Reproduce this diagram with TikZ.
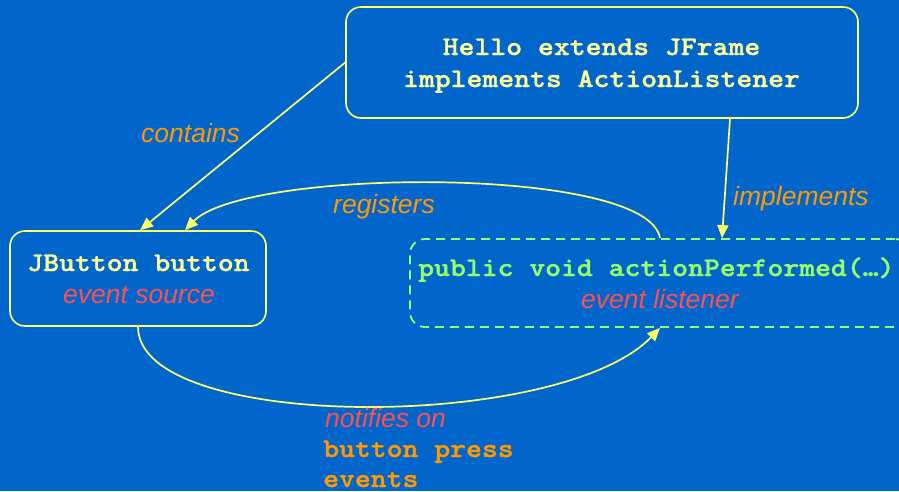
\documentclass[tikz,border=0pt]{standalone}
\usepackage{fontspec}
\setmainfont{Liberation Sans}
\newfontfamily\codefont{lmmonolt10-bold.otf}[FakeStretch=1.12,FakeBold=1.2]
\usetikzlibrary{arrows.meta}
\definecolor{bgblue}{RGB}{0,102,204}
\definecolor{lineyellow}{RGB}{255,255,102}
\definecolor{textyellow}{RGB}{255,255,153}
\definecolor{lblorange}{RGB}{255,153,0}
\definecolor{lblred}{RGB}{255,80,80}
\definecolor{codegreen}{RGB}{153,255,102}
\tikzset{
  boxsolid/.style={draw=lineyellow, line width=1.6pt, rounded corners=15pt, inner sep=0pt},
  boxdash/.style={draw=codegreen, line width=1.8pt, dash pattern=on 9pt off 6pt, rounded corners=15pt, inner sep=0pt},
  codetxt/.style={inner sep=0pt, anchor=base, font=\codefont\fontsize{27}{32}\selectfont},
  itxt/.style={inner sep=0pt, anchor=base, font=\itshape\fontsize{26.5}{32}\selectfont},
  conn/.style={draw=lineyellow, line width=1.7pt, -{Triangle[length=13pt,width=11pt]}, fill=none}
}
\begin{document}
\begin{tikzpicture}[x=1pt,y=-1pt]
\useasboundingbox (0,0) rectangle (899,491);
\fill[bgblue] (0,0) rectangle (899,491);
% boxes
\node[boxsolid, minimum width=512pt, minimum height=111pt] (hello) at (602,62.5) {};
\node[boxsolid, minimum width=256pt, minimum height=95pt] (jb) at (138,278.5) {};
\node[boxdash, minimum width=500pt, minimum height=88pt] (lis) at (660,283) {};
% box texts
\node[codetxt, text=textyellow] (h1) at (601.5,55) {Hello extends JFrame};
\node[codetxt, text=textyellow] (h2) at (601.5,87) {implements ActionListener};
\node[codetxt, text=textyellow] (j1) at (138.5,271) {JButton button};
\node[itxt, text=lblred] (j2) at (139,303) {event source};
\node[codetxt, text=codegreen, anchor=base west] (l1) at (418,276) {public void actionPerformed(…)};
\node[itxt, text=lblred] (l2) at (660,308) {event listener};
% connectors
\draw[conn] (hello.west) -- ([xshift=2pt]jb.north);
\draw[conn] (lis.north) .. controls (648,165) and (245,168) .. ([xshift=47pt]jb.north);
\draw[conn] ([xshift=128pt]hello.south) -- ([xshift=62pt]lis.north);
\draw[conn] (jb.south) .. controls (138,432) and (560,432) .. (lis.south);
% labels
\node[itxt, text=lblorange, anchor=base west] (lc) at (141,142) {contains};
\node[itxt, text=lblorange, anchor=base west] (lr) at (333,213) {registers};
\node[itxt, text=lblorange, anchor=base west] (li) at (733,205) {implements};
\node[itxt, text=lblred, anchor=base west] (ln) at (325,427) {notifies on};
\node[codetxt, text=lblorange, anchor=base west] (lb1) at (323,457) {button press};
\node[codetxt, text=lblorange, anchor=base west] (lb2) at (323,487) {events};
\end{tikzpicture}
\end{document}
